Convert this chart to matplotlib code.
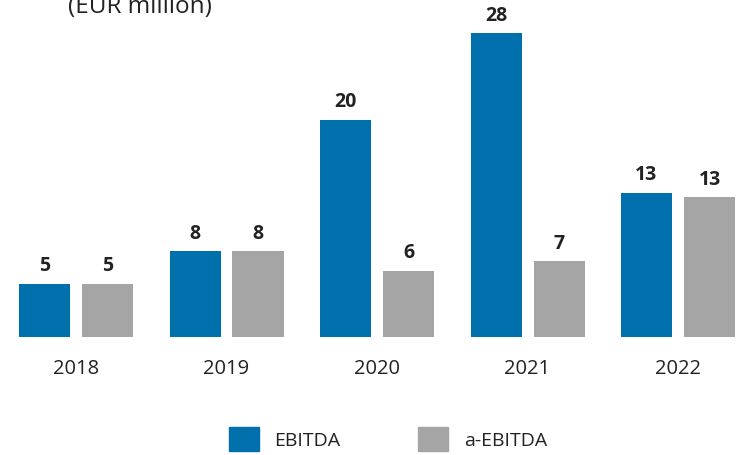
import matplotlib
matplotlib.use("Agg")
import matplotlib.pyplot as plt
from matplotlib.patches import Patch
import numpy as np

years = ["2018", "2019", "2020", "2021", "2022"]
ebitda = [4.9, 7.9, 20.0, 28.0, 13.3]
a_ebitda = [4.9, 7.9, 6.1, 7.0, 12.85]
ebitda_labels = ["5", "8", "20", "28", "13"]
a_ebitda_labels = ["5", "8", "6", "7", "13"]

BLUE = "#0070AD"
GRAY = "#A5A5A5"
TXT = "#222222"
plt.rcParams["font.family"] = ["Open Sans", "DejaVu Sans"]

W, H = 742, 456
fig = plt.figure(figsize=(W / 100, H / 100), dpi=100)

base_px = 338
ax = fig.add_axes([0, (H - base_px) / H, 1, base_px / H])
step = 150.5
x0 = 76
ax.set_xlim(-x0 / step, (W - x0) / step)
ax.set_ylim(0, base_px / 10.86)

x = np.arange(len(years))
bw = 51 / step
off = 31.5 / step
b1 = ax.bar(x - off, ebitda, bw, color=BLUE)
b2 = ax.bar(x + off, a_ebitda, bw, color=GRAY)

for rects, labs in ((b1, ebitda_labels), (b2, a_ebitda_labels)):
    for r, lab in zip(rects, labs):
        ax.annotate(lab, (r.get_x() + r.get_width() / 2, r.get_height()),
                    xytext=(0, 6), textcoords="offset points",
                    ha="center", va="bottom", fontsize=14, fontweight="bold",
                    color=TXT)

ax.set_xticks(x)
ax.set_xticklabels(years, fontsize=14.5, color=TXT)
ax.tick_params(axis="x", length=0, pad=15)
ax.set_yticks([])
for s in ax.spines.values():
    s.set_visible(False)

fig.text(68 / W, 1 - 13 / H, "(EUR million)", fontsize=17.5, color=TXT,
         ha="left", va="baseline")

handles = [Patch(color=BLUE, label="EBITDA"), Patch(color=GRAY, label="a-EBITDA")]
fig.legend(handles=handles, loc="center", bbox_to_anchor=(388 / W, 1 - 440 / H),
           ncol=2, frameon=False, fontsize=14, handlelength=1.55, handleheight=1.55,
           handletextpad=0.8, columnspacing=4.0, labelcolor=TXT)

fig.savefig("out.png", dpi=100)
